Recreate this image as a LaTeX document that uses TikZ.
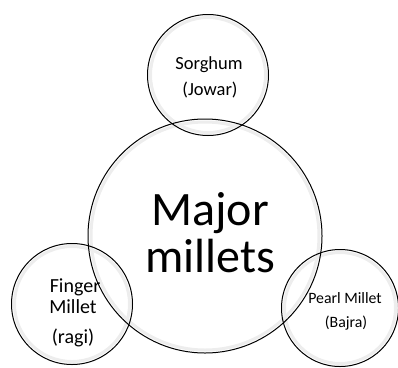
\documentclass[tikz,border=0pt]{standalone}
\usepackage{fontspec}
\setmainfont{Carlito}
\begin{document}
\begin{tikzpicture}[x=1pt,y=-1pt,
  bub/.style={circle,draw=black,line width=1pt,inner sep=0pt,minimum size=#1},
  glow/.style={circle,draw=black!7,line width=3pt,inner sep=0pt,minimum size=#1},
  lbl/.style={inner sep=0pt,anchor=base,text=black}]
\useasboundingbox (0,0) rectangle (398,367);
% soft inner rims
\node[glow=228pt] (majorg) at (205,236) {};
\node[glow=115pt] (sorg) at (208,75) {};
\node[glow=115pt] (fing) at (72,304) {};
\node[glow=111pt] (pearg) at (340,308) {};
% outlines
\node[bub=234pt] (major) at (205,236) {};
\node[bub=121pt] (sor) at (208,75) {};
\node[bub=121pt] (fin) at (72,304) {};
\node[bub=117pt] (pear) at (340,308) {};
% texts
\node[lbl,font=\fontsize{48}{48}\selectfont] (majort1) at (210,225) {Major};
\node[lbl,font=\fontsize{48}{48}\selectfont] (majort2) at (210,272) {millets};
\node[lbl,font=\fontsize{18.5}{20}\selectfont] (sort1) at (209,69) {Sorghum};
\node[lbl,font=\fontsize{18.5}{20}\selectfont] (sort2) at (210,95) {(Jowar)};
\node[lbl,font=\fontsize{20}{22}\selectfont] (fint1) at (75,292) {Finger};
\node[lbl,font=\fontsize{20}{22}\selectfont] (fint2) at (73,313) {Millet};
\node[lbl,font=\fontsize{20}{22}\selectfont] (fint3) at (73,343) {(ragi)};
\node[lbl,font=\fontsize{15.8}{18}\selectfont] (peart1) at (345,303) {Pearl Millet};
\node[lbl,font=\fontsize{15.8}{18}\selectfont] (peart2) at (346,327) {(Bajra)};
\end{tikzpicture}
\end{document}
